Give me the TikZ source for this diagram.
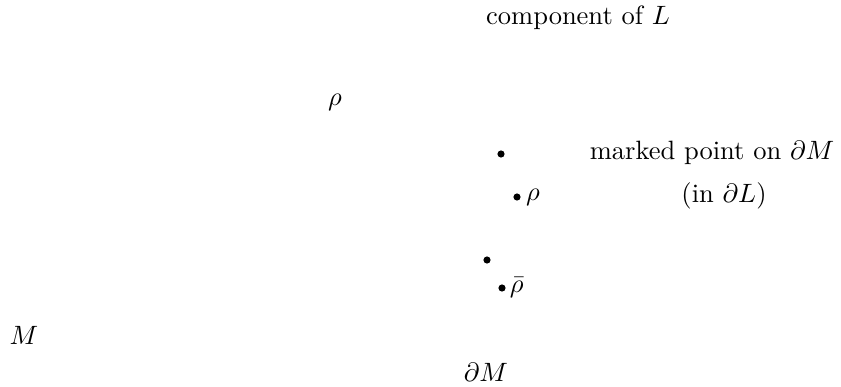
\documentclass[tikz,border=0pt]{standalone}
\usepackage{amsmath}
\usepackage{amssymb}
\usepackage{tikz}
\usetikzlibrary{positioning}
\tikzset{
  mpt/.style={circle, fill=black, inner sep=0pt, minimum size=2.7pt},
  lab/.style={inner sep=1pt, align=center},
  every picture/.append style={line join=round}
}

\begin{document}
\begin{tikzpicture}[x=0.3774pt, y=-0.3774pt]
  \useasboundingbox (0,0) rectangle (841,386);
  \node[lab] (comp) at (578,18) {component of $L$};
  \node[lab] (rhoA) at (335,102) {$\rho$};
  \node[mpt] (pt1) at (501,154) {};
  \node[lab] (mark) at (712,153) {marked point on $\partial M$};
  \node[mpt] (pt2) at (517,197) {};
  \node[lab, right=0.7pt of pt2] (rhoB) {$\rho$};
  \node[lab] (inL) at (724,196) {(in $\partial L$)};
  \node[mpt] (pt3) at (487,260) {};
  \node[mpt] (pt4) at (502,288) {};
  \node[lab, right=0.2pt of pt4] (rhobar) {$\bar\rho$};
  \node[lab] (M) at (24,335) {$M$};
  \node[lab] (dM) at (486,372) {$\partial M$};
\end{tikzpicture}
\end{document}
